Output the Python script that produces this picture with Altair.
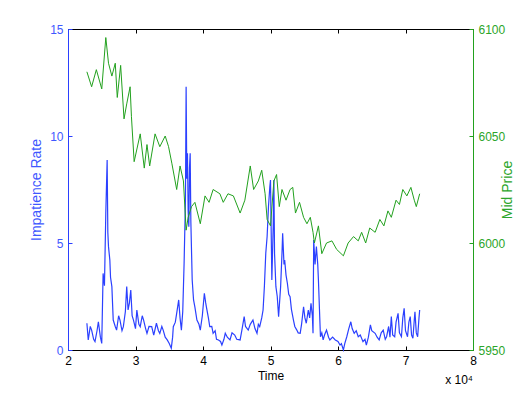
import altair as alt
import pandas as pd

# ---- data (time in units of 1e4) ----
rate_t = [2.28, 2.30, 2.33, 2.35, 2.38, 2.40, 2.43, 2.45, 2.48, 2.50, 2.52, 2.54, 2.56, 2.58, 2.59,
          2.60, 2.62, 2.63, 2.65, 2.67, 2.70, 2.72, 2.75, 2.77, 2.80, 2.82, 2.85, 2.87, 2.89, 2.91,
          2.93, 2.95, 2.97, 3.00, 3.02, 3.05, 3.07, 3.10, 3.12, 3.15, 3.17, 3.20, 3.24, 3.27, 3.31,
          3.34, 3.36, 3.39, 3.41, 3.44, 3.47, 3.50, 3.53, 3.55, 3.56, 3.59, 3.61, 3.64, 3.66, 3.68,
          3.70, 3.72, 3.74, 3.75, 3.76, 3.77, 3.78, 3.79, 3.80, 3.81, 3.82, 3.84, 3.86, 3.88, 3.91,
          3.94, 3.96, 3.99, 4.02, 4.04, 4.05, 4.08, 4.10, 4.13, 4.15, 4.18, 4.20, 4.23, 4.26, 4.28,
          4.31, 4.33, 4.36, 4.40, 4.43, 4.47, 4.50, 4.55, 4.58, 4.61, 4.63, 4.67, 4.70, 4.74, 4.77,
          4.80, 4.82, 4.84, 4.87, 4.89, 4.91, 4.93, 4.95, 4.97, 4.99, 5.00, 5.02, 5.04, 5.05, 5.06,
          5.08, 5.10, 5.12, 5.15, 5.17, 5.18, 5.20, 5.21, 5.23, 5.25, 5.27, 5.29, 5.31, 5.34, 5.36,
          5.39, 5.41, 5.44, 5.46, 5.49, 5.51, 5.53, 5.56, 5.58, 5.60, 5.62, 5.63, 5.64, 5.66, 5.68,
          5.70, 5.71, 5.73, 5.74, 5.76, 5.78, 5.80, 5.83, 5.86, 5.88, 5.92, 5.96, 6.00, 6.03, 6.05,
          6.08, 6.10, 6.13, 6.16, 6.19, 6.21, 6.24, 6.27, 6.30, 6.33, 6.37, 6.40, 6.42, 6.45, 6.48,
          6.50, 6.55, 6.58, 6.61, 6.64, 6.67, 6.70, 6.72, 6.75, 6.77, 6.79, 6.81, 6.84, 6.86, 6.89,
          6.91, 6.94, 6.96, 6.98, 7.00, 7.03, 7.05, 7.07, 7.09, 7.11, 7.13, 7.14, 7.16, 7.18, 7.20,
          7.21]
rate_v = [1.25, 0.47, 1.10, 0.93, 0.50, 0.39, 0.90, 1.32, 0.60, 0.31, 3.58, 3.00, 6.39, 8.88, 5.50,
          4.83, 4.20, 3.40, 2.96, 1.40, 1.10, 0.93, 1.60, 1.40, 0.90, 1.09, 1.80, 2.96, 1.87, 2.20,
          2.80, 1.60, 1.40, 1.00, 1.87, 1.20, 1.09, 1.60, 1.40, 1.00, 0.78, 1.10, 1.09, 0.70, 1.25,
          0.90, 0.78, 1.10, 0.93, 0.60, 0.47, 0.30, 0.08, 0.60, 1.09, 1.30, 1.71, 2.34, 1.50, 0.93,
          1.80, 4.05, 7.00, 12.30, 8.00, 9.19, 6.50, 5.76, 8.50, 9.19, 6.00, 3.27, 2.34, 2.00, 1.40,
          1.20, 0.93, 1.60, 2.65, 2.20, 2.02, 1.50, 1.09, 1.10, 0.78, 0.90, 0.50, 0.47, 0.40, 0.23,
          0.50, 0.78, 0.60, 0.47, 0.80, 0.70, 0.50, 0.47, 1.00, 1.56, 1.10, 0.93, 1.20, 1.40, 1.00,
          0.78, 1.20, 1.09, 1.50, 1.87, 3.00, 4.52, 5.30, 6.70, 7.63, 7.94, 3.27, 5.76, 7.94, 4.50,
          2.96, 2.50, 1.56, 2.96, 4.50, 5.45, 4.00, 4.20, 3.50, 3.12, 2.60, 2.49, 1.90, 1.40, 1.10,
          0.93, 0.80, 0.78, 1.20, 2.02, 1.50, 1.25, 1.87, 1.50, 2.18, 1.60, 0.78, 5.14, 4.00, 4.83,
          4.00, 3.27, 1.50, 0.62, 0.80, 0.47, 0.70, 0.93, 0.60, 0.47, 0.60, 0.47, 0.40, 0.23, 0.30,
          0.00, 0.30, 0.62, 1.00, 1.32, 1.00, 0.78, 0.90, 0.62, 0.70, 0.39, 0.50, 0.23, 0.60, 1.17,
          0.90, 0.78, 0.60, 0.47, 0.80, 0.93, 0.50, 0.62, 1.10, 0.60, 1.56, 0.70, 0.62, 1.30, 1.71,
          0.80, 0.62, 1.50, 1.95, 0.90, 0.62, 1.30, 1.56, 0.70, 0.55, 1.40, 1.79, 0.80, 0.62, 1.50,
          1.87]

price_t = [2.28, 2.35, 2.42, 2.50, 2.56, 2.60, 2.65, 2.70, 2.73, 2.78, 2.83, 2.87, 2.92, 2.94, 2.98,
           3.07, 3.13, 3.17, 3.21, 3.29, 3.36, 3.44, 3.49, 3.54, 3.61, 3.66, 3.71, 3.75, 3.78, 3.83,
           3.88, 3.96, 4.03, 4.09, 4.15, 4.25, 4.30, 4.37, 4.45, 4.55, 4.62, 4.70, 4.75, 4.82, 4.87,
           4.92, 4.95, 5.00, 5.05, 5.09, 5.13, 5.17, 5.23, 5.29, 5.33, 5.37, 5.43, 5.49, 5.54, 5.59,
           5.63, 5.65, 5.71, 5.76, 5.83, 5.91, 5.98, 6.08, 6.15, 6.23, 6.30, 6.35, 6.41, 6.47, 6.55,
           6.62, 6.68, 6.74, 6.79, 6.86, 6.91, 6.96, 7.02, 7.08, 7.13, 7.16, 7.21]
price_v = [6080, 6073, 6081, 6072, 6096, 6084, 6078, 6084, 6068, 6083, 6058, 6065, 6073, 6059, 6038,
           6051, 6035, 6046, 6036, 6051, 6045, 6050, 6045, 6037, 6025, 6036, 6029, 6006, 6012, 6017,
           6019, 6009, 6022, 6019, 6025, 6023, 6019, 6023, 6022, 6014, 6020, 6036, 6025, 6029, 6034,
           6023, 6011, 6008, 6029, 6032, 6017, 6025, 6020, 6025, 6026, 6014, 6019, 6012, 6009, 6012,
           6005, 6000, 6008, 5995, 6000, 6001, 5997, 5994, 6000, 6003, 6001, 6005, 6000, 6007, 6005,
           6011, 6008, 6015, 6012, 6020, 6018, 6025, 6022, 6026, 6020, 6017, 6023]

x_ticks = [20000, 30000, 40000, 50000, 60000, 70000, 80000]
rate_ticks = [0, 5, 10, 15]
price_ticks = [5950, 6000, 6050, 6100]

rate_df = pd.DataFrame({"Time": [t * 10000 for t in rate_t], "Rate": rate_v})
price_df = pd.DataFrame({"Time": [t * 10000 for t in price_t], "Price": price_v})

W, H = 405, 321
BLUE_LINE = "#2b40ff"
BLUE_TEXT = "#3f58ff"
GREEN_LINE = "#22a11e"
GREEN_TEXT = "#2ca52a"
FONT = "Liberation Sans"

xscale = alt.Scale(domain=[20000, 80000], nice=False, zero=False)
rscale = alt.Scale(domain=[0, 15], nice=False)
pscale = alt.Scale(domain=[5950, 6100], nice=False, zero=False)

common_label = dict(labelFont=FONT, labelFontSize=12, titleFont=FONT, grid=False)

# Layer 1: blue line, bottom labelled x axis, left labelled y axis
blue_line = alt.Chart(rate_df).mark_line(color=BLUE_LINE, strokeWidth=1.2).encode(
    x=alt.X("Time:Q", scale=xscale, axis=alt.Axis(
        orient="bottom", values=x_ticks, labelExpr="format(datum.value/10000,'d')",
        title="Time", titleFontSize=12, titleFontWeight="normal", titleColor="black",
        titlePadding=4, labelColor="black", labelPadding=5, ticks=False, tickSize=0,
        domainColor="black", domainWidth=1, labelFlush=False, **common_label)),
    y=alt.Y("Rate:Q", scale=rscale, axis=alt.Axis(
        orient="left", values=rate_ticks, title="Impatience Rate", titleFontSize=14,
        titleFontWeight="normal", titleColor=BLUE_TEXT, titlePadding=6,
        labelColor=BLUE_TEXT, labelPadding=5, ticks=False, tickSize=0,
        domainColor=BLUE_LINE, domainWidth=1, labelFlush=False, **common_label)),
)

# Layer 2: invisible copy carrying inward ticks for the bottom and left edges
blue_ticks = alt.Chart(rate_df).mark_line(opacity=0).encode(
    x=alt.X("Time:Q", scale=xscale, axis=alt.Axis(
        orient="top", offset=-H, values=x_ticks, labels=False, domain=False, title=None,
        ticks=True, tickSize=4, tickColor="black", grid=False)),
    y=alt.Y("Rate:Q", scale=rscale, axis=alt.Axis(
        orient="right", offset=-W, values=rate_ticks, labels=False, domain=False, title=None,
        ticks=True, tickSize=4, tickColor=BLUE_LINE, grid=False)),
)

# Layer 3: green line, top border with inward ticks, right labelled y axis
green_line = alt.Chart(price_df).mark_line(color=GREEN_LINE, strokeWidth=1).encode(
    x=alt.X("Time:Q", scale=xscale, axis=alt.Axis(
        orient="bottom", offset=-H, values=x_ticks, labels=False, title=None,
        ticks=True, tickSize=4, tickColor="black", domainColor="black", domainWidth=1,
        grid=False)),
    y=alt.Y("Price:Q", scale=pscale, axis=alt.Axis(
        orient="right", values=price_ticks, format="d", title="Mid Price", titleFontSize=14,
        titleFontWeight="normal", titleColor=GREEN_TEXT, titlePadding=10, titleAngle=270,
        labelColor=GREEN_TEXT, labelPadding=5, ticks=False, tickSize=0,
        domainColor=GREEN_LINE, domainWidth=1, labelFlush=False, **common_label)),
)

# Layer 4: invisible copy carrying inward ticks for the right edge
green_ticks = alt.Chart(price_df).mark_line(opacity=0).encode(
    x=alt.X("Time:Q", scale=xscale, axis=None),
    y=alt.Y("Price:Q", scale=pscale, axis=alt.Axis(
        orient="left", offset=-W, values=price_ticks, labels=False, domain=False, title=None,
        ticks=True, tickSize=4, tickColor=GREEN_LINE, grid=False)),
)

chart = alt.layer(blue_line, blue_ticks, green_line, green_ticks).resolve_scale(
    y="independent"
).resolve_axis(
    x="independent", y="independent"
).properties(
    width=W, height=H,
    autosize=alt.AutoSizeParams(type="none"),
    padding={"left": 60, "top": 21, "right": 43, "bottom": 36},
    title=alt.TitleParams(text="x 10⁴", orient="bottom", anchor="end", frame="group",
                          font=FONT, fontSize=12, fontWeight="normal", color="black",
                          offset=-6),
).configure_view(stroke=None).configure(background="white")

chart.save("out.html", embed_options={"renderer": "svg", "actions": False})
